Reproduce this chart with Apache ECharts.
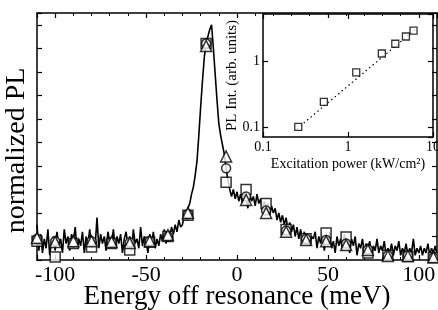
<!DOCTYPE html>
<html>
<head>
<meta charset="utf-8">
<script src="https://cdn.jsdelivr.net/npm/echarts@6/dist/echarts.min.js"></script>
<style>
  html, body { margin: 0; padding: 0; background: #fff; }
  #chart { width: 438px; height: 310px; }
</style>
</head>
<body>
<div id="chart"></div>
<script>
// PL spectrum, one value per meV starting at -110 meV
const energyStart = -110;
const plTrace = [
  1.5,0.4,1.1,0.3,0.9,0.5,1.3,0.2,0.8,1.0,   // -110
  0.4,1.2,0.6,0.9,0.3,1.3,0.7,1.0,0.4,1.1,   // -100
  0.8,1.4,0.5,0.9,0.6,1.2,0.3,1.0,0.7,1.3,   // -90
  0.5,0.9,0.6,1.8,0.5,1.1,0.7,1.0,0.4,1.2,   // -80
  0.8,0.6,1.3,0.5,1.0,0.7,1.1,0.3,0.9,1.2,   // -70
  0.6,1.0,0.4,1.3,0.7,0.9,0.5,1.4,0.6,1.0,   // -60
  0.8,0.3,1.1,0.7,1.2,0.5,0.9,0.6,1.1,0.8,   // -50
  1.3,0.7,1.2,1.0,1.4,1.1,1.5,1.2,1.7,1.4,   // -40
  1.5,1.9,1.7,2.2,2.4,2.8,3.1,3.6,4.2,5.3,   // -30
  6.5,7.6,8.6,9.2,9.5,9.8,10.0,9.0,7.9,6.8,  // -20
  5.8,5.3,4.9,4.5,3.9,3.4,3.0,2.7,3.0,2.6,   // -10
  2.9,2.5,2.8,2.4,2.9,2.6,2.2,2.8,2.5,2.7,   // 0
  2.3,2.8,2.4,2.6,2.1,2.5,2.2,2.4,1.9,2.3,   // 10
  2.0,2.2,1.7,2.0,1.6,1.9,1.5,1.8,1.3,1.6,   // 20
  1.2,1.5,1.0,1.4,0.9,1.3,0.8,1.2,0.7,1.1,   // 30
  0.6,1.0,0.9,1.2,0.5,1.0,0.7,1.1,0.4,0.9,   // 40
  0.6,1.2,0.5,0.8,0.3,1.0,0.6,0.9,0.4,1.1,   // 50
  0.5,0.8,0.3,0.9,0.6,1.0,0.2,0.7,0.5,0.9,   // 60
  0.3,0.7,0.5,0.8,0.2,0.6,0.4,0.9,0.3,0.6,   // 70
  0.4,0.8,0.2,0.5,0.3,0.7,0.2,0.6,0.4,0.8,   // 80
  0.2,0.5,0.3,0.7,0.2,0.5,0.3,0.9,0.2,0.5,   // 90
  0.3,0.6,0.2,0.5,0.3,0.7,0.2,0.5,0.3,0.6,0.2 // 100
];

// model points (three excitation powers)
const markerEnergy = [-110,-100,-90,-80,-69,-59,-48,-38,-27,-17,-6,5,16,27,38,49,60,72,83,94,108];
const triangleVals = [0.94,0.77,0.8,0.8,0.77,0.72,0.81,1.06,2.0,9.1,4.4,2.55,2.0,1.2,0.85,0.8,0.64,0.43,0.17,0.17,0.12];
const circleVals   = [0.9,0.8,0.75,0.8,0.75,0.75,0.8,1.0,1.95,9.2,3.9,2.7,2.1,1.25,0.9,0.85,0.7,0.45,0.2,0.2,0.1];
const squareVals   = [0.8,0.13,0.7,0.55,0.7,0.43,0.75,1.0,1.9,9.2,3.3,3.0,2.4,1.3,0.9,1.15,0.98,0.3,0.2,0.15,0.1];

// inset: integrated PL vs excitation power
const powerVals = [0.26,0.52,1.25,2.5,3.6,4.8,5.9];
const intVals   = [0.1,0.24,0.68,1.32,1.86,2.4,2.95];
const fitLine   = [[0.25,0.093],[6.3,3.15]];

const serif = "'Liberation Serif', 'Times New Roman', serif";

const trace = plTrace.map((v, i) => [energyStart + i, v]);
const pairs = vals => markerEnergy.map((e, i) => [e, vals[i]]);

function frameAxis(extra) {
  return Object.assign({
    axisLine: { show: true, onZero: false, lineStyle: { color: '#000', width: 1.5 } },
    axisTick: { show: true, inside: true, length: 5, lineStyle: { color: '#000', width: 1.2 } },
    splitLine: { show: false },
    axisLabel: { show: false },
    nameMoveOverlap: false
  }, extra);
}

let chart = echarts.init(document.getElementById('chart'), null, { renderer: 'canvas' });

let option = {
  animation: false,
  backgroundColor: '#fff',
  grid: [
    { left: 37, top: 13, right: 1, bottom: 50, outerBoundsMode: 'none' },
    { left: 263, top: 14, right: 5, bottom: 173, outerBoundsMode: 'none' }
  ],
  xAxis: [
    frameAxis({
      type: 'value', gridIndex: 0, min: -110, max: 110, splitNumber: 4,
      minorTick: { show: true, splitNumber: 5, length: 3, lineStyle: { color: '#000' } },
      axisLabel: { show: true, color: '#000', fontFamily: serif, fontSize: 22, margin: 4,
                   showMinLabel: false, showMaxLabel: false },
      name: 'Energy off resonance (meV)', nameLocation: 'middle', nameGap: 23,
      nameTextStyle: { color: '#000', fontFamily: serif, fontSize: 27 }
    }),
    frameAxis({
      type: 'value', gridIndex: 0, position: 'top', min: -110, max: 110, splitNumber: 4,
      minorTick: { show: true, splitNumber: 5, length: 3, lineStyle: { color: '#000' } }
    }),
    frameAxis({
      type: 'log', logBase: 10, gridIndex: 1, min: 0.1, max: 10,
      axisLabel: { show: true, color: '#000', fontFamily: serif, fontSize: 14, margin: 3 },
      name: 'Excitation power (kW/cm²)', nameLocation: 'middle', nameGap: 20,
      nameTextStyle: { color: '#000', fontFamily: serif, fontSize: 14 }
    }),
    frameAxis({
      type: 'log', logBase: 10, gridIndex: 1, position: 'top', min: 0.1, max: 10
    })
  ],
  yAxis: [
    frameAxis({
      type: 'value', gridIndex: 0, min: 0, max: 10.5, interval: 1,
      name: 'normalized PL', nameLocation: 'middle', nameGap: 6,
      nameTextStyle: { color: '#000', fontFamily: serif, fontSize: 28, padding: [0, 28, 0, 0] }
    }),
    frameAxis({
      type: 'value', gridIndex: 0, position: 'right', min: 0, max: 10.5, interval: 1
    }),
    frameAxis({
      type: 'log', logBase: 10, gridIndex: 1, min: 0.07, max: 5.3,
      axisLabel: { show: true, color: '#000', fontFamily: serif, fontSize: 14, margin: 3,
                   showMinLabel: false, showMaxLabel: false },
      name: 'PL Int. (arb. units)', nameLocation: 'middle', nameGap: 23,
      nameTextStyle: { color: '#000', fontFamily: serif, fontSize: 15 }
    }),
    frameAxis({
      type: 'log', logBase: 10, gridIndex: 1, position: 'right', min: 0.07, max: 5.3
    })
  ],
  series: [
    {
      type: 'line', xAxisIndex: 0, yAxisIndex: 0, data: trace,
      showSymbol: false, lineStyle: { color: '#000', width: 1.6 }, z: 2
    },
    {
      type: 'scatter', xAxisIndex: 0, yAxisIndex: 0, data: pairs(squareVals),
      symbol: 'rect', symbolSize: 10,
      itemStyle: { color: '#fff', borderColor: '#000', borderWidth: 1.5 }, z: 3
    },
    {
      type: 'scatter', xAxisIndex: 0, yAxisIndex: 0, data: pairs(circleVals),
      symbol: 'circle', symbolSize: 9,
      itemStyle: { color: '#fff', borderColor: '#000', borderWidth: 1.5 }, z: 4
    },
    {
      type: 'scatter', xAxisIndex: 0, yAxisIndex: 0, data: pairs(triangleVals),
      symbol: 'triangle', symbolSize: 11,
      itemStyle: { color: '#fff', borderColor: '#000', borderWidth: 1.5 }, z: 5
    },
    {
      type: 'line', xAxisIndex: 2, yAxisIndex: 2, data: fitLine,
      showSymbol: false, lineStyle: { color: '#000', width: 1.2, type: [1.5, 3] }, z: 2
    },
    {
      type: 'scatter', xAxisIndex: 2, yAxisIndex: 2,
      data: powerVals.map((p, i) => [p, intVals[i]]),
      symbol: 'rect', symbolSize: 7,
      itemStyle: { color: '#fff', borderColor: '#000', borderWidth: 1.3 }, z: 3
    }
  ]
};
chart.setOption(option);
</script>
</body>
</html>
